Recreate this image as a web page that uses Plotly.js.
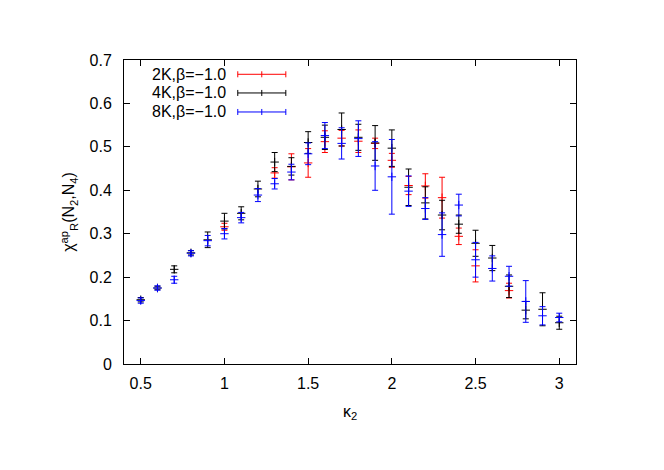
<!DOCTYPE html>
<html>
<head>
<meta charset="utf-8">
<script src="https://cdn.plot.ly/plotly-3.0.1.min.js"></script>
<style>html,body{margin:0;padding:0;background:#fff;}#chart{width:664px;height:470px;}</style>
</head>
<body>
<div id="chart"></div>
<script>
// kappa_2 values
const kappa = [0.5,0.6,0.7,0.8,0.9,1.0,1.1,1.2,1.3,1.4,1.5,1.6,1.7,1.8,1.9,2.0,2.1,2.2,2.3,2.4,2.5,2.6,2.7,2.8,2.9,3.0];

// 2K (red) – only points that are visible in the reference
const kappa2K = [1.0,1.3,1.4,1.5,1.6,1.7,1.8,1.9,2.0,2.1,2.2,2.3,2.4,2.5,2.7];
const chi2K   = [0.316,0.440,0.454,0.463,0.512,0.520,0.513,0.508,0.469,0.411,0.410,0.383,0.294,0.226,0.169];
const err2K   = [0.008,0.012,0.030,0.033,0.025,0.018,0.026,0.012,0.016,0.021,0.028,0.047,0.019,0.037,0.017];

// 4K (black)
const chi4K = [0.148,0.175,0.218,0.256,0.286,0.329,0.347,0.403,0.465,0.455,0.510,0.522,0.540,0.522,0.509,0.497,0.407,0.371,0.343,0.322,0.278,0.244,0.179,0.124,0.126,0.095];
const err4K = [0.005,0.004,0.008,0.005,0.018,0.018,0.015,0.018,0.022,0.020,0.025,0.028,0.038,0.030,0.040,0.042,0.042,0.037,0.034,0.021,0.030,0.029,0.026,0.020,0.038,0.015];

// 8K (blue)
const chi8K = [0.146,0.175,0.194,0.255,0.284,0.300,0.337,0.389,0.415,0.442,0.484,0.526,0.508,0.519,0.456,0.431,0.398,0.358,0.298,0.366,0.240,0.220,0.202,0.144,0.111,0.107];
const err8K = [0.006,0.005,0.008,0.006,0.012,0.012,0.012,0.015,0.012,0.018,0.025,0.030,0.036,0.041,0.056,0.086,0.035,0.025,0.050,0.025,0.040,0.029,0.023,0.048,0.021,0.010];

const seriesNames = ['2K,β=−1.0','4K,β=−1.0','8K,β=−1.0'];
const seriesColors = ['rgb(255,0,0)','rgb(0,0,0)','rgb(0,0,255)'];

const xTicks = [0.5,1,1.5,2,2.5,3];
const yTicks = [0,0.1,0.2,0.3,0.4,0.5,0.6,0.7];

function mk(x, y, e, i){
  return {
    type:'scatter', mode:'markers', x:x, y:y, name:seriesNames[i], showlegend:false,
    marker:{symbol:'cross-thin', size:6, color:seriesColors[i], line:{color:seriesColors[i], width:1}},
    error_y:{type:'data', array:e, visible:true, color:seriesColors[i], thickness:1, width:3}
  };
}

const data = [
  mk(kappa2K, chi2K, err2K, 0),
  mk(kappa, chi4K, err4K, 1),
  mk(kappa, chi8K, err8K, 2)
];

// key (gnuplot style: text then sample with error bar caps)
const keyY = [0.953, 0.8916, 0.829];
const kx0 = 0.2517, kx1 = 0.358, kxc = 0.3048, capH = 0.0099, textX = 0.2296;
const shapes = [];
const annotations = [];
for (let i=0;i<3;i++){
  const c = seriesColors[i], y = keyY[i];
  shapes.push({type:'line', xref:'paper', yref:'paper', x0:kx0, x1:kx1, y0:y, y1:y, line:{color:c, width:1}});
  shapes.push({type:'line', xref:'paper', yref:'paper', x0:kx0, x1:kx0, y0:y-capH, y1:y+capH, line:{color:c, width:1}});
  shapes.push({type:'line', xref:'paper', yref:'paper', x0:kx1, x1:kx1, y0:y-capH, y1:y+capH, line:{color:c, width:1}});
  shapes.push({type:'line', xref:'paper', yref:'paper', x0:kxc, x1:kxc, y0:y-capH, y1:y+capH, line:{color:c, width:1}});
  annotations.push({xref:'paper', yref:'paper', x:textX, y:y, xanchor:'right', yanchor:'middle',
    text:seriesNames[i], showarrow:false, font:{family:'Liberation Sans, Arial, sans-serif', size:16, color:'#000'}});
}

const layout = {
  width:664, height:470,
  margin:{l:124, r:88, t:60, b:106},
  paper_bgcolor:'#fff', plot_bgcolor:'#fff',
  font:{family:'Liberation Sans, Arial, sans-serif', size:16, color:'#000'},
  showlegend:false,
  xaxis:{
    range:[0.4,3.1], tickvals:xTicks, ticktext:xTicks.map(String),
    ticks:'inside', ticklen:6, tickcolor:'#000', mirror:'allticks',
    showline:true, linecolor:'#000', linewidth:1, showgrid:false, zeroline:false,
    ticklabelstandoff:5,
    title:{text:'κ<sub>2</sub>', font:{size:16}, standoff:14}
  },
  yaxis:{
    range:[0,0.7], tickvals:yTicks, ticktext:yTicks.map(String),
    ticks:'inside', ticklen:6, tickcolor:'#000', mirror:'allticks',
    showline:true, linecolor:'#000', linewidth:1, showgrid:false, zeroline:false,
    ticklabelstandoff:8,
    title:{text:'χ<sup>ap</sup><sub>R</sub>(N<sub>2</sub>,N<sub>4</sub>)', font:{size:16}, standoff:10}
  },
  shapes:shapes,
  annotations:annotations
};

Plotly.newPlot('chart', data, layout, {displayModeBar:false, staticPlot:true});
</script>
</body>
</html>
